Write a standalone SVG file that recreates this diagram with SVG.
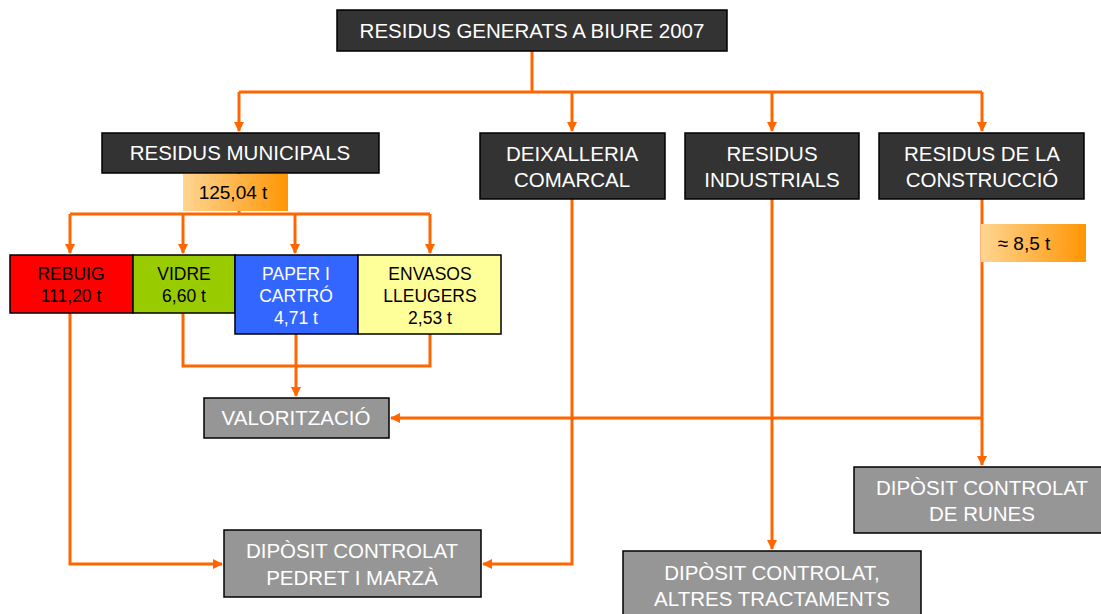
<svg xmlns="http://www.w3.org/2000/svg" width="1101" height="614" viewBox="0 0 1101 614">
<defs>
<marker id="ah" viewBox="0 0 10 10" refX="9" refY="5" markerWidth="3.4" markerHeight="3.4" orient="auto" markerUnits="strokeWidth">
<path d="M0,0 L10,5 L0,10 z" fill="#ff6600"/>
</marker>
<linearGradient id="og" x1="0" y1="0" x2="1" y2="0">
<stop offset="0" stop-color="#ffd591"/>
<stop offset="1" stop-color="#ff9605"/>
</linearGradient>
<style>
.dk{fill:#333333;stroke:#000;stroke-width:1.5}
.gr{fill:#969696;stroke:#000;stroke-width:1.5}
.tw{fill:#fff;font-family:"Liberation Sans",Arial,sans-serif;font-size:20.5px;text-anchor:middle}
.tb{fill:#000;font-family:"Liberation Sans",Arial,sans-serif;font-size:17.5px;text-anchor:middle}
.ts{fill:#fff;font-family:"Liberation Sans",Arial,sans-serif;font-size:17.5px;text-anchor:middle}
.c{fill:none;stroke:#ff6600;stroke-width:3}
.b{stroke:#000;stroke-width:1.5}
</style>
</defs>
<g id="connectors">
<path class="c" d="M532,51 V92"/>
<path class="c" d="M239,92 H982"/>
<path class="c" d="M239,92 V131" marker-end="url(#ah)"/>
<path class="c" d="M572,92 V131" marker-end="url(#ah)"/>
<path class="c" d="M772,92 V131" marker-end="url(#ah)"/>
<path class="c" d="M982,92 V131" marker-end="url(#ah)"/>
<path class="c" d="M239,173 V214"/>
<path class="c" d="M70,214 H430"/>
<path class="c" d="M70,214 V253" marker-end="url(#ah)"/>
<path class="c" d="M183,214 V253" marker-end="url(#ah)"/>
<path class="c" d="M295,214 V253" marker-end="url(#ah)"/>
<path class="c" d="M430,214 V253" marker-end="url(#ah)"/>
<path class="c" d="M70,313 V564 H222" marker-end="url(#ah)"/>
<path class="c" d="M183,313 V366 H430 V334"/>
<path class="c" d="M296,334 V396" marker-end="url(#ah)"/>
<path class="c" d="M572,199 V564 H483" marker-end="url(#ah)"/>
<path class="c" d="M772,199 V549" marker-end="url(#ah)"/>
<path class="c" d="M982,199 V465" marker-end="url(#ah)"/>
<path class="c" d="M982,418 H391" marker-end="url(#ah)"/>
</g>
<g id="n-top">
<rect class="dk" x="337" y="10" width="390" height="41"/>
<text class="tw" x="532" y="38">RESIDUS GENERATS A BIURE 2007</text>
</g>
<g id="n-municipals">
<rect class="dk" x="102" y="133" width="277" height="40"/>
<text class="tw" x="240" y="160">RESIDUS MUNICIPALS</text>
</g>
<g id="n-125">
<rect x="183" y="174" width="105" height="37" fill="url(#og)"/>
<text class="tb" x="233" y="199" style="font-size:19px">125,04 t</text>
</g>
<g id="n-deixalleria">
<rect class="dk" x="480" y="133" width="185" height="66"/>
<text class="tw" x="572" y="161">DEIXALLERIA</text>
<text class="tw" x="572" y="187">COMARCAL</text>
</g>
<g id="n-industrials">
<rect class="dk" x="685" y="133" width="174" height="66"/>
<text class="tw" x="772" y="161">RESIDUS</text>
<text class="tw" x="772" y="187">INDUSTRIALS</text>
</g>
<g id="n-construccio">
<rect class="dk" x="879" y="133" width="205" height="66"/>
<text class="tw" x="982" y="161">RESIDUS DE LA</text>
<text class="tw" x="982" y="187">CONSTRUCCIÓ</text>
</g>
<g id="n-85">
<rect x="981" y="224" width="105" height="38" fill="url(#og)"/>
<text class="tb" x="1024" y="250" style="font-size:19px">≈ 8,5 t</text>
</g>
<g id="n-rebuig">
<rect class="b" x="10" y="255" width="123" height="58" fill="#ff0000"/>
<text class="tb" x="71" y="280">REBUIG</text>
<text class="tb" x="71" y="302">111,20 t</text>
</g>
<g id="n-vidre">
<rect class="b" x="133" y="255" width="102" height="58" fill="#99cc00"/>
<text class="tb" x="184" y="280">VIDRE</text>
<text class="tb" x="184" y="302">6,60 t</text>
</g>
<g id="n-paper">
<rect class="b" x="235" y="255" width="123" height="79" fill="#3366ff"/>
<text class="ts" x="296" y="280">PAPER I</text>
<text class="ts" x="296" y="302">CARTRÓ</text>
<text class="ts" x="296" y="324">4,71 t</text>
</g>
<g id="n-envasos">
<rect class="b" x="358" y="255" width="143" height="79" fill="#ffff99"/>
<text class="tb" x="430" y="280">ENVASOS</text>
<text class="tb" x="430" y="302">LLEUGERS</text>
<text class="tb" x="430" y="324">2,53 t</text>
</g>
<g id="n-valoritzacio">
<rect class="gr" x="204" y="398" width="185" height="40"/>
<text class="tw" x="296" y="425">VALORITZACIÓ</text>
</g>
<g id="n-pedret">
<rect class="gr" x="224" y="530" width="257" height="67"/>
<text class="tw" x="352" y="558">DIPÒSIT CONTROLAT</text>
<text class="tw" x="352" y="585">PEDRET I MARZÀ</text>
</g>
<g id="n-altres">
<rect class="gr" x="623" y="551" width="298" height="70"/>
<text class="tw" x="772" y="580">DIPÒSIT CONTROLAT,</text>
<text class="tw" x="772" y="606">ALTRES TRACTAMENTS</text>
</g>
<g id="n-runes">
<rect class="gr" x="854" y="467" width="250" height="66"/>
<text class="tw" x="982" y="495">DIPÒSIT CONTROLAT</text>
<text class="tw" x="982" y="521">DE RUNES</text>
</g>
</svg>
